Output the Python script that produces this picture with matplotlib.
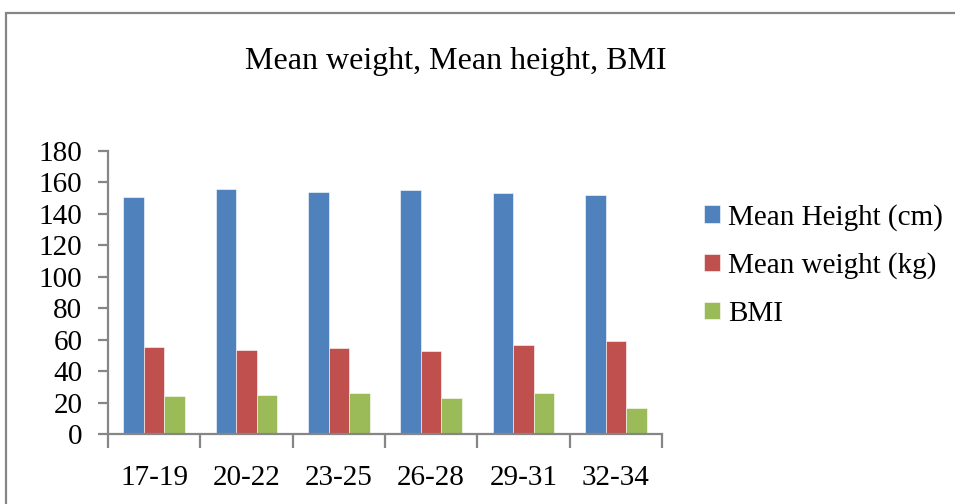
import numpy as np
import matplotlib
matplotlib.use("Agg")
import matplotlib.pyplot as plt
from matplotlib.patches import Rectangle

plt.rcParams['font.family'] = ['Liberation Serif', 'DejaVu Serif']

age_groups = ["17-19", "20-22", "23-25", "26-28", "29-31", "32-34"]
mean_height = [150.6, 155.6, 153.9, 155.0, 153.1, 151.8]
mean_weight = [55.2, 53.5, 54.6, 52.9, 56.9, 59.2]
bmi = [24.3, 24.7, 26.2, 23.3, 26.0, 16.7]

series_names = ["Mean Height (cm)", "Mean weight (kg)", "BMI"]
series_colors = ["#4F81BD", "#C0504D", "#9BBB59"]
axis_gray = "#868686"

fig = plt.figure(figsize=(9.55, 5.04), dpi=100)
ax = fig.add_axes([108 / 955, 1 - 434.3 / 504, (662 - 108) / 955, (434.3 - 150.7) / 504])

x = np.arange(len(age_groups))
width = 1 / 4.5
for i, (vals, name, col) in enumerate(zip([mean_height, mean_weight, bmi], series_names, series_colors)):
    ax.bar(x + (i - 1) * width, vals, width, color=col, label=name,
           edgecolor="white", linewidth=0.4)

ax.set_xlim(-0.5, len(age_groups) - 0.5)
ax.set_ylim(0, 180)
ax.set_yticks(np.arange(0, 181, 20))
ax.set_xticks(x)
ax.set_xticklabels(age_groups)
ax.set_xticks(np.arange(-0.5, len(age_groups), 1), minor=True)

for side in ["top", "right"]:
    ax.spines[side].set_visible(False)
for side in ["left", "bottom"]:
    ax.spines[side].set_color(axis_gray)
    ax.spines[side].set_linewidth(1.6)

ax.tick_params(axis="y", direction="out", length=7, width=1.6, color=axis_gray,
               labelsize=21, pad=11.5)
ax.tick_params(axis="x", which="major", length=0, labelsize=21, pad=22)
ax.tick_params(axis="x", which="minor", direction="out", length=10, width=1.6, color=axis_gray)

fig.text(456 / 955, 1 - 61 / 504, "Mean weight, Mean height, BMI",
         ha="center", va="center", fontsize=23)

leg = fig.legend(loc="upper left", bbox_to_anchor=(692 / 955, 1 - 192 / 504),
                 frameon=False, fontsize=21, handlelength=0.55, handleheight=0.55,
                 handletextpad=0.3, labelspacing=0.74, borderaxespad=0)

fig.patches.append(Rectangle((5.5 / 955, -0.1), 1.2, 1.1 - 13.5 / 504,
                             transform=fig.transFigure, fill=False,
                             edgecolor=axis_gray, linewidth=1.6))

fig.savefig("out.png", dpi=100)
